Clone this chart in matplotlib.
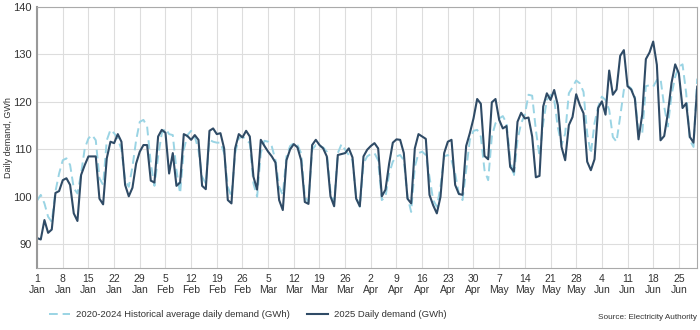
import matplotlib
matplotlib.use("Agg")
import matplotlib.pyplot as plt
import pandas as pd

# daily demand, GWh, 1 Jan - 30 Jun
historical = [99.2, 100.4, 98.6, 95.8, 94.7, 101.1, 104.9, 107.7, 108.1, 106.7,
              101.8, 100.7, 104.9, 110.2, 112.3, 113.0, 111.9, 103.9, 102.5, 111.9,
              114.1, 113.4, 112.3, 109.9, 103.5, 102.1, 106.3, 111.9, 115.8, 116.2,
              114.8, 107.0, 102.3, 108.5, 113.4, 114.4, 113.2, 113.0, 105.6, 100.7,
              109.9, 113.0, 113.9, 112.7, 109.9, 104.2, 102.8, 112.0, 111.6, 111.4,
              111.4, 109.2, 102.1, 100.0, 109.2, 112.3, 112.7, 112.0, 111.3, 102.8,
              100.0, 109.2, 111.8, 111.6, 110.6, 107.7, 102.1, 100.4, 108.5, 110.7,
              111.3, 110.9, 109.2, 100.0, 98.9, 109.9, 110.9, 110.7, 110.4, 109.5,
              101.1, 98.9, 109.2, 111.1, 109.9, 108.8, 107.7, 100.0, 97.9, 107.0,
              108.5, 109.0, 109.2, 107.7, 99.3, 100.0, 104.9, 107.4, 108.5, 108.8,
              107.7, 100.0, 96.8, 106.3, 109.2, 109.5, 108.8, 104.2, 99.3, 97.9,
              102.1, 108.5, 108.8, 107.7, 104.9, 100.7, 99.3, 105.6, 112.0, 113.9,
              114.1, 112.7, 105.6, 103.5, 112.7, 115.5, 116.5, 117.0, 115.5, 108.1,
              104.2, 112.0, 115.5, 117.3, 121.5, 121.3, 114.1, 108.5, 115.5, 120.4,
              121.5, 120.5, 114.6, 110.9, 113.3, 121.8, 123.1, 124.5, 123.9, 122.1,
              113.3, 109.1, 115.5, 119.0, 121.1, 120.4, 118.3, 112.6, 111.6, 116.9,
              122.5, 123.5, 122.8, 121.1, 113.7, 113.3, 123.3, 123.5, 123.2, 124.6,
              124.9, 119.0, 114.8, 121.5, 125.3, 127.4, 127.9, 121.8, 111.9, 110.5,
              124.9]

demand_2025 = [91.3, 91.0, 95.1, 92.4, 93.1, 100.8, 101.2, 103.5, 103.9, 102.5,
               96.5, 94.9, 104.6, 106.7, 108.5, 108.5, 108.5, 99.6, 98.4, 108.1,
               111.6, 111.3, 113.2, 111.6, 102.5, 100.1, 101.9, 107.0, 109.5, 110.9,
               110.9, 103.4, 103.0, 112.7, 114.1, 113.5, 104.9, 109.2, 102.3, 103.0,
               113.2, 112.8, 112.0, 113.0, 112.0, 102.3, 101.6, 113.9, 114.4, 113.2,
               113.4, 110.2, 99.3, 98.6, 110.2, 113.2, 112.5, 113.9, 112.7, 104.2,
               101.5, 112.0, 110.7, 109.5, 108.5, 107.2, 99.3, 97.2, 107.7, 110.0,
               111.1, 110.4, 107.7, 98.9, 98.5, 110.9, 112.0, 110.9, 110.2, 108.5,
               100.1, 98.0, 108.8, 109.0, 109.2, 110.2, 108.3, 99.6, 98.0, 108.5,
               109.9, 110.7, 111.3, 110.2, 100.1, 101.5, 107.0, 111.4, 112.1, 112.0,
               109.2, 99.6, 98.6, 110.2, 113.2, 112.7, 112.2, 100.4, 98.2, 96.5,
               100.0, 109.2, 111.6, 112.0, 102.5, 100.6, 100.4, 110.7, 113.4, 116.5,
               120.6, 119.6, 108.6, 107.9, 119.9, 120.6, 116.2, 114.4, 114.9, 106.3,
               105.3, 115.8, 117.7, 116.5, 116.7, 112.7, 104.1, 104.4, 119.0, 121.8,
               120.4, 122.5, 119.3, 110.5, 107.7, 115.1, 116.8, 121.6, 119.3, 117.6,
               107.4, 105.6, 107.9, 118.7, 120.1, 117.3, 126.6, 121.5, 122.6, 129.7,
               130.9, 123.3, 122.6, 120.7, 112.1, 117.3, 129.0, 130.4, 132.7, 127.8,
               111.9, 112.8, 117.6, 124.0, 127.9, 126.0, 118.7, 119.7, 112.6, 111.4,
               123.2]

dates = pd.date_range("2025-01-01", periods=len(demand_2025), freq="D")
tick_dates = dates[::7]
tick_labels = [f"{d.day}\n{d:%b}" for d in tick_dates]

plt.rcParams['font.family'] = ['Liberation Sans', 'DejaVu Sans']

fig = plt.figure(figsize=(7, 3.3), dpi=100)
ax = fig.add_axes([0.053, 0.188, 0.943, 0.791])

ax.plot(dates, historical, color='#9ad4e4', linewidth=1.4, linestyle=(0, (4.5, 2.5)),
        label='2020-2024 Historical average daily demand (GWh)')
ax.plot(dates, demand_2025, color='#2f4b66', linewidth=1.5,
        label='2025 Daily demand (GWh)')

ax.set_xlim(dates[0], dates[-1])
ax.set_ylim(85, 140)
ax.set_yticks([90, 100, 110, 120, 130, 140])
ax.set_xticks(tick_dates)
ax.set_xticklabels(tick_labels)
ax.tick_params(axis='both', length=0, labelsize=7.5, colors='#333333', pad=4)
ax.tick_params(axis='y', labelsize=8, pad=4)
ax.grid(True, color='#dddddd', linewidth=0.8)
ax.set_axisbelow(True)
for side in ['top', 'right', 'bottom']:
    ax.spines[side].set_color('#aaaaaa')
    ax.spines[side].set_linewidth(0.8)
ax.spines['left'].set_color('#999999')
ax.spines['left'].set_linewidth(1.5)

ax.set_ylabel('Daily demand, GWh', fontsize=6.5, color='#333333')
ax.yaxis.set_label_coords(-0.037, 0.5)

fig.legend(loc='lower left', bbox_to_anchor=(0.058, 0.008), ncol=2, frameon=False,
           fontsize=6.8, handlelength=2.2, handletextpad=0.6, columnspacing=1.9,
           labelcolor='#333333')
fig.text(0.996, 0.039, 'Source: Electricity Authority', ha='right', va='center',
         fontsize=5.9, color='#333333')

fig.savefig('out.png', dpi=100)
